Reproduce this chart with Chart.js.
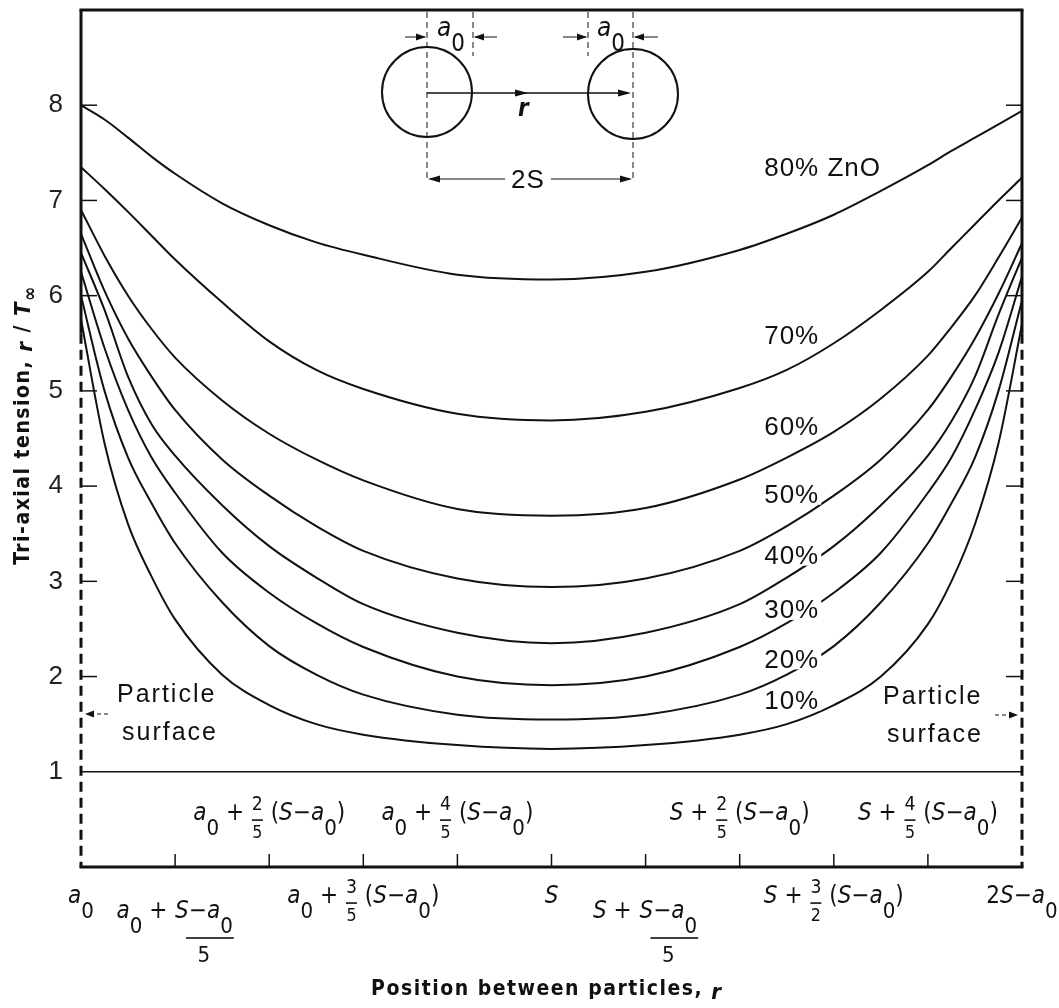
<!DOCTYPE html>
<html>
<head>
<meta charset="utf-8">
<script src="https://cdn.jsdelivr.net/npm/chart.js@4"></script>
<style>
  html, body { margin: 0; padding: 0; background: #fff; }
</style>
</head>
<body>
<canvas id="tension" width="1059" height="1008"></canvas>
<script>
'use strict';

// position between particles: 0 = a0, 5 = S, 10 = 2S - a0
const positions = [0, 0.25, 0.5, 0.75, 1, 1.5, 2, 2.5, 3, 4, 5, 6, 7, 7.5, 8, 8.5, 9, 9.25, 9.5, 9.75, 10];

// tri-axial tension r/T∞ for each ZnO content
const zno10 = [5.75, 4.45, 3.6, 3.05, 2.6, 2.02, 1.7, 1.5, 1.39, 1.28, 1.24, 1.28, 1.39, 1.5, 1.7, 2.0, 2.55, 3.0, 3.6, 4.45, 5.7];
const zno20 = [6.0, 5.0, 4.3, 3.82, 3.4, 2.78, 2.32, 2.02, 1.81, 1.6, 1.55, 1.6, 1.81, 2.02, 2.32, 2.78, 3.4, 3.82, 4.3, 5.0, 5.95];
const zno30 = [6.25, 5.45, 4.8, 4.3, 3.93, 3.3, 2.88, 2.56, 2.31, 2.0, 1.91, 2.0, 2.31, 2.56, 2.88, 3.3, 3.93, 4.3, 4.8, 5.4, 6.2];
const zno40 = [6.45, 5.85, 5.15, 4.65, 4.32, 3.8, 3.37, 3.04, 2.76, 2.46, 2.35, 2.46, 2.76, 3.04, 3.37, 3.8, 4.32, 4.68, 5.15, 5.8, 6.4];
const zno50 = [6.65, 6.05, 5.55, 5.15, 4.8, 4.28, 3.9, 3.58, 3.32, 3.03, 2.94, 3.03, 3.32, 3.58, 3.9, 4.28, 4.8, 5.15, 5.55, 6.02, 6.55];
const zno60 = [6.9, 6.42, 6.0, 5.65, 5.35, 4.9, 4.55, 4.28, 4.06, 3.76, 3.69, 3.77, 4.07, 4.3, 4.57, 4.92, 5.37, 5.67, 6.0, 6.4, 6.82];
const zno70 = [7.35, 7.12, 6.88, 6.63, 6.38, 5.93, 5.52, 5.22, 5.02, 4.76, 4.69, 4.78, 5.03, 5.22, 5.5, 5.85, 6.25, 6.5, 6.75, 7.0, 7.24];
const zno80 = [8.0, 7.85, 7.66, 7.46, 7.28, 6.97, 6.74, 6.56, 6.43, 6.22, 6.17, 6.25, 6.48, 6.65, 6.85, 7.1, 7.37, 7.52, 7.66, 7.8, 7.94];

const curveNames = ['10%', '20%', '30%', '40%', '50%', '60%', '70%', '80% ZnO'];
const curves = [zno10, zno20, zno30, zno40, zno50, zno60, zno70, zno80];

// reference level r/T∞ = 1
const baseLevel = 1;

const yTicks = [1, 2, 3, 4, 5, 6, 7, 8];
const xTicks = [0, 1, 2, 3, 4, 5, 6, 7, 8, 9, 10];
// _ = subscript, [num/den] = fraction
const xTickLabels = [
  'a_0',
  'a_0 + [S−a_0/5]',
  'a_0 + [2/5] (S−a_0)',
  'a_0 + [3/5] (S−a_0)',
  'a_0 + [4/5] (S−a_0)',
  'S',
  'S + [S−a_0/5]',
  'S + [2/5] (S−a_0)',
  'S + [3/2] (S−a_0)',
  'S + [4/5] (S−a_0)',
  '2S−a_0'
];
const xTickAbove = [false, false, true, false, true, false, false, true, false, true, false];

const INK = '#111';
const COND = '"DejaVu Sans Condensed", "Liberation Sans Narrow", sans-serif';
const HELV = '"Liberation Sans", Arial, sans-serif';

function parseLabel(str) {
  const out = [];
  let i = 0;
  while (i < str.length) {
    const c = str[i];
    if (c === '[') {
      const j = str.indexOf(']', i);
      const parts = str.slice(i + 1, j).split('/');
      out.push({ k: 'frac', num: parseLabel(parts[0]), den: parseLabel(parts[1]) });
      i = j + 1;
    } else if (c === '_') {
      out.push({ k: 'sub', s: str[i + 1] });
      i += 2;
    } else {
      out.push({ k: 'txt', s: c, it: /[A-Za-z]/.test(c) });
      i++;
    }
  }
  return out;
}

function itemFont(it, size) {
  const sz = it.k === 'sub' ? size * 0.92 : size;
  return (it.it ? 'italic ' : '') + sz + 'px ' + COND;
}

function runWidth(ctx, items, size) {
  let w = 0;
  for (const it of items) {
    if (it.k === 'frac') {
      const fs = it.num.length > 1 ? size : size * 0.8;
      w += Math.max(runWidth(ctx, it.num, fs), runWidth(ctx, it.den, fs * 0.92)) + 2;
    } else {
      ctx.font = itemFont(it, size);
      w += ctx.measureText(it.s).width;
    }
  }
  return w;
}

function drawRun(ctx, items, x, y, size) {
  for (const it of items) {
    if (it.k === 'frac') {
      const big = it.num.length > 1;
      const fs = big ? size : size * 0.8;
      const nw = runWidth(ctx, it.num, fs);
      const dw = runWidth(ctx, it.den, fs * 0.92);
      const w = Math.max(nw, dw) + 2;
      const ny = big ? y : y - size * 0.36;
      const by = big ? y + size * 1.05 : y + size * 0.22;
      const dy = big ? y + size * 1.85 : y + size * 0.8;
      drawRun(ctx, it.num, x + (w - nw) / 2, ny, fs);
      drawRun(ctx, it.den, x + (w - dw) / 2, dy, fs * 0.92);
      ctx.fillRect(x + (big ? w * 0.2 : 1), by, big ? w * 0.8 : w - 2, 1.6);
      x += w;
    } else {
      ctx.font = itemFont(it, size);
      ctx.fillText(it.s, x, it.k === 'sub' ? y + size * 0.62 : y);
      x += ctx.measureText(it.s).width;
    }
  }
}

// plain text spans centred on cx: [text, font, dy]
function drawSpans(ctx, spans, cx, cy) {
  let w = 0;
  for (const sp of spans) { ctx.font = sp[1]; w += ctx.measureText(sp[0]).width; }
  let x = cx - w / 2;
  for (const sp of spans) {
    ctx.font = sp[1];
    ctx.fillText(sp[0], x, cy + (sp[2] || 0));
    x += ctx.measureText(sp[0]).width;
  }
}

function seg(ctx, x1, y1, x2, y2) {
  ctx.beginPath();
  ctx.moveTo(x1, y1);
  ctx.lineTo(x2, y2);
  ctx.stroke();
}

function arrowHead(ctx, x, y, dir, len) {
  len = len || 11;
  ctx.beginPath();
  ctx.moveTo(x, y);
  ctx.lineTo(x - dir * len, y - 3.5);
  ctx.lineTo(x - dir * len, y + 3.5);
  ctx.closePath();
  ctx.fill();
}

const framePlugin = {
  id: 'frame',
  afterDatasetsDraw(chart) {
    const { ctx, chartArea: a, scales: { x, y } } = chart;
    ctx.save();
    ctx.strokeStyle = INK;
    ctx.fillStyle = INK;
    ctx.textBaseline = 'middle';

    // frame: solid at the top, dashed down the particle surfaces
    ctx.lineWidth = 3;
    const solidTo = y.getPixelForValue(5.6);
    seg(ctx, a.left - 1.5, a.top, a.right + 1.5, a.top);
    seg(ctx, a.left, a.top, a.left, solidTo);
    seg(ctx, a.right, a.top, a.right, solidTo);
    seg(ctx, a.left - 1.5, a.bottom, a.right + 1.5, a.bottom);
    ctx.setLineDash([10, 6]);
    seg(ctx, a.left, solidTo, a.left, a.bottom);
    seg(ctx, a.right, solidTo, a.right, a.bottom);
    ctx.setLineDash([]);

    // inward tick marks
    ctx.lineWidth = 1.5;
    yTicks.forEach(v => {
      if (v === baseLevel) return;
      const py = y.getPixelForValue(v);
      seg(ctx, a.left, py, a.left + 16, py);
      seg(ctx, a.right - 16, py, a.right, py);
    });
    xTicks.forEach(v => {
      if (v === 0 || v === 10) return;
      const px = x.getPixelForValue(v);
      seg(ctx, px, a.bottom, px, a.bottom - 13);
    });

    // position labels, alternating above and below the axis
    ctx.textAlign = 'left';
    xTicks.forEach((v, i) => {
      const items = parseLabel(xTickLabels[i]);
      const w = runWidth(ctx, items, 24);
      const px = x.getPixelForValue(v);
      const hanging = items.some(it => it.k === 'frac' && it.num.length > 1);
      let ly;
      if (xTickAbove[i]) ly = a.bottom - 53;
      else ly = hanging ? a.bottom + 45 : a.bottom + 30;
      drawRun(ctx, items, px - w / 2, ly, 24);
    });

    // axis titles
    ctx.save();
    ctx.letterSpacing = '1.5px';
    const tb = 'bold 21px ' + COND;
    const ti = 'italic bold 22px ' + COND;
    drawSpans(ctx, [['Position between particles, ', tb], ['r', ti, 3]], x.getPixelForValue(4.95), 990);
    ctx.translate(24, 425);
    ctx.rotate(-Math.PI / 2);
    drawSpans(ctx, [['Tri-axial tension, ', tb], ['r', ti, 2], [' / ', tb], ['T', ti], ['∞', 'bold 19px ' + COND, 7]], 0, 0);
    ctx.restore();

    // curve labels sit on a white patch
    const spots = [1.75, 2.18, 2.7, 3.27, 3.91, 4.62, 5.58, 7.34];
    ctx.font = '26px ' + HELV;
    ctx.letterSpacing = '1px';
    curveNames.forEach((name, i) => {
      const lx = x.getPixelForValue(7.26);
      const lyy = y.getPixelForValue(spots[i]);
      const w = ctx.measureText(name).width;
      ctx.fillStyle = '#fff';
      ctx.fillRect(lx - 2, lyy - 10, w + 4, 20);
      ctx.fillStyle = INK;
      ctx.fillText(name, lx, lyy + 1);
    });

    // particle surface notes
    ctx.letterSpacing = '2px';
    ctx.font = '25px ' + HELV;
    ctx.fillText('Particle', 117, 695);
    ctx.fillText('surface', 122, 733);
    ctx.fillText('Particle', 883, 697);
    ctx.fillText('surface', 887, 735);
    ctx.letterSpacing = '0px';
    ctx.lineWidth = 1;
    ctx.setLineDash([4, 3]);
    seg(ctx, 108, 714, 90, 714);
    seg(ctx, 995, 715, 1014, 715);
    ctx.setLineDash([]);
    arrowHead(ctx, a.left + 4, 714, -1, 9);
    arrowHead(ctx, a.right - 4, 715, 1, 9);

    // inset sketch: two particles of radius a0 spaced 2S apart
    ctx.lineWidth = 2;
    ctx.beginPath();
    ctx.arc(427, 92, 45, 0, Math.PI * 2);
    ctx.stroke();
    ctx.beginPath();
    ctx.arc(633, 94, 45, 0, Math.PI * 2);
    ctx.stroke();

    ctx.lineWidth = 1;
    ctx.setLineDash([6, 4]);
    seg(ctx, 427, a.top + 2, 427, 182);
    seg(ctx, 473, a.top + 2, 473, 56);
    seg(ctx, 588, a.top + 2, 588, 56);
    seg(ctx, 633, a.top + 2, 633, 182);
    ctx.setLineDash([]);

    seg(ctx, 405, 37, 425, 37);
    arrowHead(ctx, 426, 37, 1, 10);
    seg(ctx, 497, 37, 475, 37);
    arrowHead(ctx, 474, 37, -1, 10);
    seg(ctx, 563, 37, 586, 37);
    arrowHead(ctx, 587, 37, 1, 10);
    seg(ctx, 658, 37, 635, 37);
    arrowHead(ctx, 634, 37, -1, 10);

    const a0 = parseLabel('a_0');
    drawRun(ctx, a0, 437, 29, 26);
    drawRun(ctx, a0, 597, 29, 26);

    ctx.lineWidth = 1.5;
    seg(ctx, 427, 93, 628, 93);
    arrowHead(ctx, 528, 93, 1, 13);
    arrowHead(ctx, 631, 93, 1, 13);
    ctx.font = 'italic bold 24px ' + COND;
    ctx.fillText('r', 518, 110);

    ctx.lineWidth = 1;
    seg(ctx, 430, 179, 630, 179);
    arrowHead(ctx, 428, 179, -1, 12);
    arrowHead(ctx, 632, 179, 1, 12);
    ctx.font = '26px ' + HELV;
    ctx.letterSpacing = '1px';
    const tw = ctx.measureText('2S').width;
    ctx.fillStyle = '#fff';
    ctx.fillRect(528 - tw / 2 - 6, 166, tw + 12, 26);
    ctx.fillStyle = INK;
    ctx.textAlign = 'center';
    ctx.fillText('2S', 528, 181);

    ctx.restore();
  }
};

const datasets = curves.map((vals, i) => ({
  label: curveNames[i],
  data: positions.map((p, j) => ({ x: p, y: vals[j] })),
  borderColor: INK,
  borderWidth: 2,
  cubicInterpolationMode: 'monotone',
  pointRadius: 0,
  fill: false
}));
datasets.push({
  label: 'r/T∞ = 1',
  data: [{ x: 0, y: baseLevel }, { x: 10, y: baseLevel }],
  borderColor: INK,
  borderWidth: 1.6,
  pointRadius: 0,
  fill: false
});

const tensionCtx = document.getElementById('tension').getContext('2d');

new Chart(tensionCtx, {
  type: 'line',
  data: { datasets: datasets },
  options: {
    responsive: false,
    animation: false,
    devicePixelRatio: 1,
    layout: { padding: { top: 10, right: 37, left: 0, bottom: 0 } },
    scales: {
      x: {
        type: 'linear',
        min: 0,
        max: 10,
        ticks: { display: false },
        grid: { display: false, drawTicks: false },
        border: { display: false },
        afterFit: s => { s.height = 141; s.paddingLeft = 0; s.paddingRight = 0; }
      },
      y: {
        min: 0,
        max: 9,
        ticks: {
          stepSize: 1,
          padding: 18,
          color: '#222',
          font: { size: 26, family: HELV },
          callback: v => (yTicks.includes(v) ? String(v) : '')
        },
        grid: { display: false, drawTicks: false },
        border: { display: false },
        afterFit: s => { s.width = 81; s.paddingTop = 0; s.paddingBottom = 0; }
      }
    },
    plugins: {
      legend: { display: false },
      tooltip: { enabled: false }
    }
  },
  plugins: [framePlugin]
});
</script>
</body>
</html>
